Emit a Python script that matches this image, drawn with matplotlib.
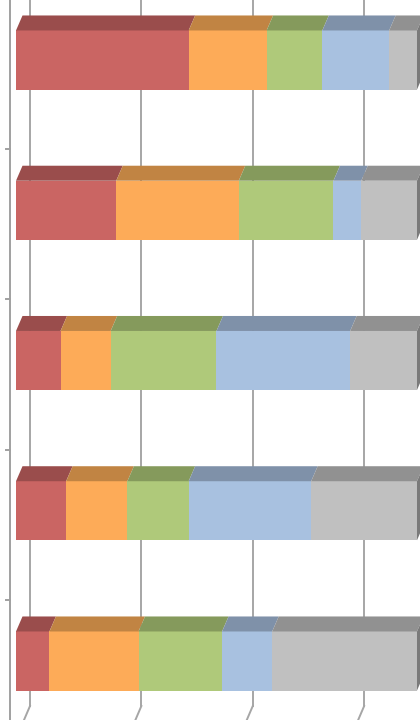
import matplotlib
matplotlib.use('Agg')
import matplotlib.pyplot as plt
from matplotlib.patches import Polygon
from matplotlib import transforms
import numpy as np

# five rows, five stacked series (each row totals 36)
rows = ['A', 'B', 'C', 'D', 'E']
s1 = [15.5, 9.0, 4.0, 4.5, 3.0]
s2 = [7.0, 11.0, 4.5, 5.5, 8.0]
s3 = [5.0, 8.5, 9.5, 5.5, 7.5]
s4 = [6.0, 2.5, 12.0, 11.0, 4.5]
s5 = [2.5, 5.0, 6.0, 9.5, 13.0]
grid_vals = [0, 10, 20, 30]

series = [s1, s2, s3, s4, s5]
front = ['#ca6563', '#fdab58', '#afc97a', '#a8c1e0', '#c0c0c0']
top = ['#9a4d4c', '#c18443', '#859a5c', '#7f91a9', '#919191']

W, H = 420, 720
fig = plt.figure(figsize=(W / 100, H / 100), dpi=100)
ax = fig.add_axes([0, 0, 1, 1])
ax.axis('off')

xmin, xmax = -1.436, 36.27
ymin, ymax = 4.3927, -0.3993
ax.set_xlim(xmin, xmax)
ax.set_ylim(ymin, ymax)

ux = (xmax - xmin) / W      # data units per pixel
uy = (ymin - ymax) / H
dx, dy = 6.5 * ux, 15 * uy  # depth of the boxes
bar_h = 0.393

# back-wall gridlines, bending onto the floor at the bottom
back = transforms.offset_copy(ax.transData, fig=fig, x=14, y=0, units='dots')
floor = transforms.offset_copy(ax.transData, fig=fig, x=8, y=0, units='dots')
t_back = transforms.blended_transform_factory(back, ax.transAxes)
t_floor = transforms.blended_transform_factory(floor, ax.transAxes)
yb = 1 - 706 / H
for g in grid_vals:
    ax.plot([g, g], [1, yb], color='#a6a6a6', lw=1.4, transform=t_back, zorder=1)
    ax.plot([g + 6 * ux, g], [yb, 0], color='#a6a6a6', lw=1.4, transform=t_floor, zorder=1)

# vertical axis with tick marks between categories
ax.plot([10 / W, 10 / W], [0, 1], color='#a0a0a0', lw=1.4, transform=ax.transAxes, zorder=1)
ytrans = transforms.blended_transform_factory(
    ax.transAxes, transforms.offset_copy(ax.transData, fig=fig, x=0, y=-14, units='dots'))
for i in range(-1, len(rows) - 1):
    ax.plot([6 / W, 10 / W], [i + 0.5, i + 0.5], color='#a0a0a0', lw=1.4, transform=ytrans, zorder=1)

y = np.arange(len(rows))
left = np.zeros(len(rows))
for vals, fc, tc in zip(series, front, top):
    vals = np.array(vals)
    ax.barh(y, vals, left=left, height=bar_h, color=fc, linewidth=0, zorder=3)
    for yi, l, v in zip(y, left, vals):
        t = yi - bar_h / 2
        ax.add_patch(Polygon([(l, t), (l + v, t), (l + v + dx, t - dy), (l + dx, t - dy)],
                             closed=True, facecolor=tc, edgecolor='none', zorder=3))
    left = left + vals

# right side face of each box
for yi, l in zip(y, left):
    t, b = yi - bar_h / 2, yi + bar_h / 2
    ax.add_patch(Polygon([(l, t), (l + dx, t - dy), (l + dx, b - dy), (l, b)],
                         closed=True, facecolor='#7a7a7a', edgecolor='none', zorder=3))

fig.savefig('out.png', dpi=100)
